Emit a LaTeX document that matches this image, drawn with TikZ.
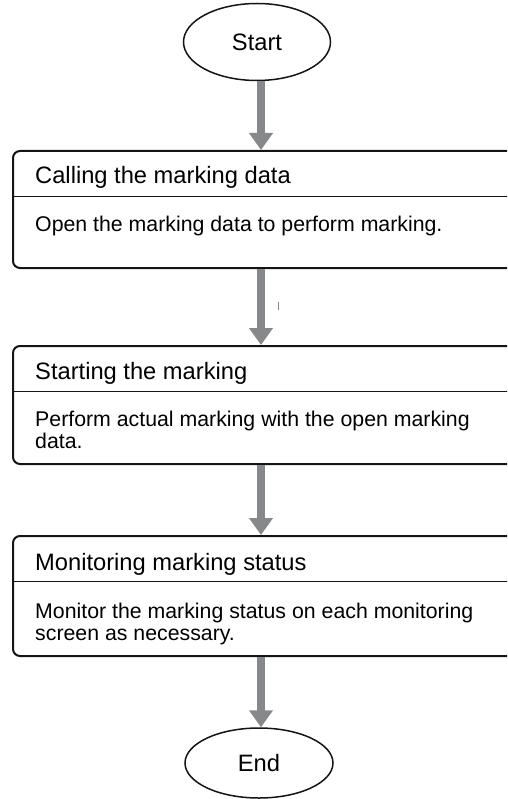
\documentclass[tikz,border=0pt]{standalone}
\usepackage{fontspec}
\setmainfont{Liberation Sans}
\usetikzlibrary{arrows.meta,positioning,shapes.geometric}
\definecolor{ink}{RGB}{20,20,20}
\definecolor{flowgray}{RGB}{135,136,140}
\tikzset{
  term/.style={ellipse,draw=ink,line width=1.5pt,inner sep=0pt,
    font=\fontsize{23.7}{26}\selectfont},
  stepbox/.style={draw=ink,line width=2pt,rounded corners=7pt,
    minimum width=520pt,anchor=north west,inner sep=0pt},
  steptitle/.style={anchor=base west,inner sep=0pt,
    font=\fontsize{23.7}{26}\selectfont},
  stepbody/.style={anchor=base west,inner sep=0pt,align=left,
    font=\fontsize{21.3}{21.7}\selectfont},
  divider/.style={draw=ink,line width=0.9pt},
  flow/.style={draw=flowgray,line width=8pt,-{Triangle[width=23pt,length=17pt]}},
}

\begin{document}
\begin{tikzpicture}[x=1pt,y=-1pt]
  \clip (0,0) rectangle (507,799);
  \coordinate (col) at (261,0);
  % terminals
  \node[term,minimum width=147pt,minimum height=77pt] (start) at (257,42) {Start};
  \node[term,minimum width=148pt,minimum height=70pt] (end) at (259,763) {End};
  % steps
  \node[stepbox,minimum height=117pt] (call) at (12,150) {};
  \node[stepbox,minimum height=118pt] (run) at (12,345) {};
  \node[stepbox,minimum height=120pt] (watch) at (12,535) {};
  \foreach \b in {call,run,watch}
    \draw[divider] ([yshift=-46.5pt]\b.north west) -- ([yshift=-46.5pt]\b.north east);
  \node[steptitle] (callT) at ([xshift=23pt,yshift=-34pt]call.north west) {Calling the marking data};
  \node[stepbody] (callB) at ([xshift=23pt,yshift=-81.7pt]call.north west)
    {Open the marking data to perform marking.};
  \node[steptitle] (runT) at ([xshift=23pt,yshift=-34pt]run.north west) {Starting the marking};
  % base of a two-line node sits on its last line
  \node[stepbody] (runB) at ([xshift=23pt,yshift=-103.3pt]run.north west)
    {Perform actual marking with the open marking\\data.};
  \node[steptitle] (watchT) at ([xshift=23pt,yshift=-35pt]watch.north west) {Monitoring marking status};
  \node[stepbody] (watchB) at ([xshift=23pt,yshift=-105pt]watch.north west)
    {Monitor the marking status on each monitoring\\screen as necessary.};
  % flow
  \draw[flow] (start.south -| col) -- (call.north -| col);
  \draw[flow] (call.south -| col) -- (run.north -| col);
  \draw[flow] (run.south -| col) -- (watch.north -| col);
  \draw[flow] (watch.south -| col) -- (end.north -| col);
  \draw[flowgray,line width=0.8pt] (278,302) -- (278,310);
\end{tikzpicture}
\end{document}
